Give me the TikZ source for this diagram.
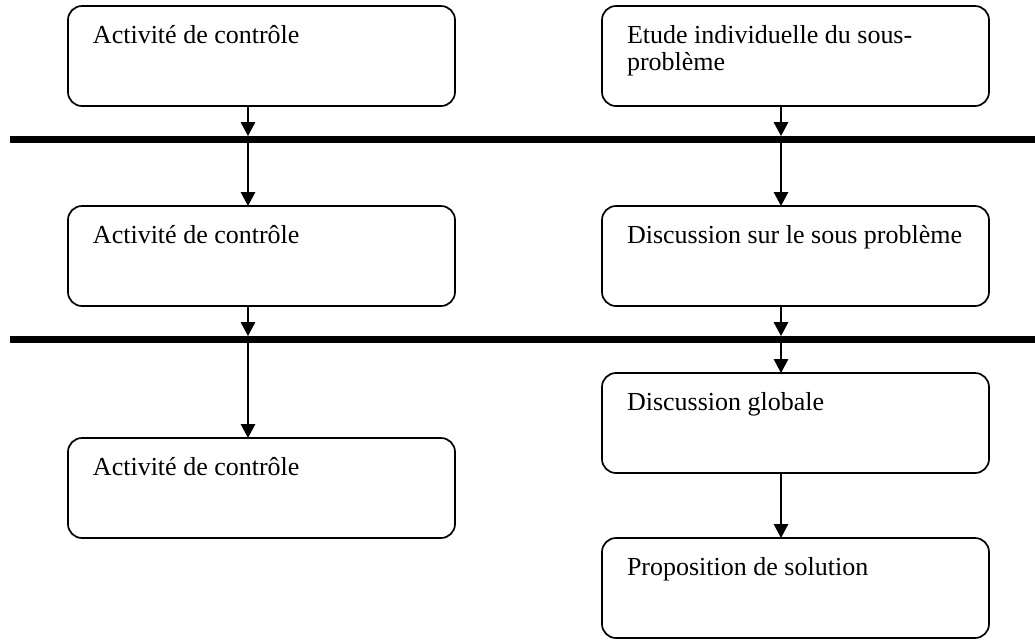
\documentclass[tikz,border=0pt]{standalone}
\usepackage{fontspec}
\setmainfont{Liberation Serif}
\usetikzlibrary{arrows.meta}

% top-aligned text block inside a fixed-size box
\newcommand{\boxtext}[1]{%
  \parbox[c][50pt][t]{193.5pt}{\fontsize{13pt}{13.8pt}\selectfont
    \leftskip=12.5pt\relax\vspace*{8.84pt}\strut#1}}

\begin{document}
\begin{tikzpicture}[x=0.5pt,y=-0.5pt,
  stepbox/.style={draw, line width=0.85pt, rounded corners=7pt,
    anchor=north west, inner sep=0pt, outer sep=0pt},
  flow/.style={draw, line width=0.85pt, -{Triangle[width=7.2pt,length=7pt]}},
  barline/.style={draw, line width=3.4pt}]
  \useasboundingbox (0,0) rectangle (1035,639);

  % phase separators
  \coordinate (h1w) at (10,139.5);   \coordinate (h1e) at (1035,139.5);
  \coordinate (h2w) at (10,339.5);   \coordinate (h2e) at (1035,339.5);
  \draw[barline] (h1w) -- (h1e);
  \draw[barline] (h2w) -- (h2e);

  % columns of the connectors
  \coordinate (xl) at (248,0);
  \coordinate (xr) at (781,0);

  % left column
  \node[stepbox] (l1) at (68,6)   {\boxtext{Activité de contrôle}};
  \node[stepbox] (l2) at (68,206) {\boxtext{Activité de contrôle}};
  \node[stepbox] (l3) at (68,438) {\boxtext{Activité de contrôle}};

  % right column
  \node[stepbox] (r1) at (602,6)   {\boxtext{Etude individuelle du sous-\\problème}};
  \node[stepbox] (r2) at (602,206) {\boxtext{Discussion sur le sous problème}};
  \node[stepbox] (r3) at (602,373) {\boxtext{Discussion globale}};
  \node[stepbox] (r4) at (602,538) {\boxtext{Proposition de solution}};

  % left connectors
  \draw[flow, shorten >=1.7pt] (l1.south -| xl) -- (xl |- h1w);
  \draw[flow] (xl |- h1w) -- (l2.north -| xl);
  \draw[flow, shorten >=1.7pt] (l2.south -| xl) -- (xl |- h2w);
  \draw[flow] (xl |- h2w) -- (l3.north -| xl);

  % right connectors
  \draw[flow, shorten >=1.7pt] (r1.south -| xr) -- (xr |- h1w);
  \draw[flow] (xr |- h1w) -- (r2.north -| xr);
  \draw[flow, shorten >=1.7pt] (r2.south -| xr) -- (xr |- h2w);
  \draw[flow] (xr |- h2w) -- (r3.north -| xr);
  \draw[flow] (r3.south -| xr) -- (r4.north -| xr);
\end{tikzpicture}
\end{document}
